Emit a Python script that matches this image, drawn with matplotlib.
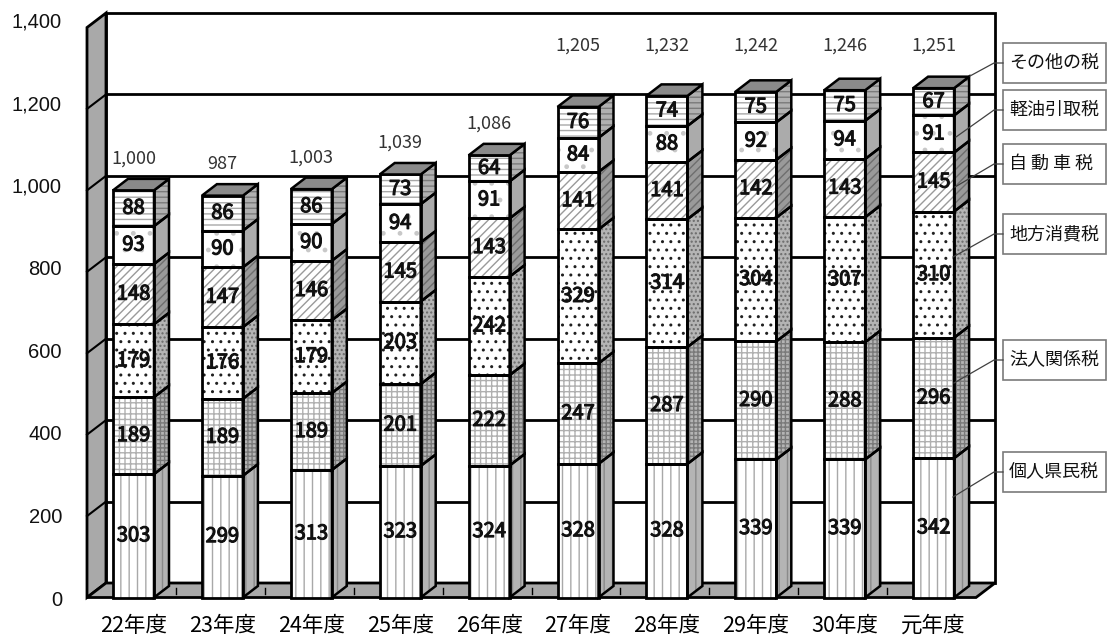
import matplotlib
matplotlib.use('Agg')
import matplotlib.pyplot as plt
import matplotlib.patheffects as pe
from matplotlib.patches import Polygon, Rectangle

plt.rcParams['font.family'] = ['Noto Sans CJK JP', 'DejaVu Sans']
plt.rcParams['hatch.linewidth'] = 1.0

# ---------------- data ----------------
categories = ['22年度', '23年度', '24年度', '25年度', '26年度',
              '27年度', '28年度', '29年度', '30年度', '元年度']
kojin_kenmin = [303, 299, 313, 323, 324, 328, 328, 339, 339, 342]   # 個人県民税
hojin_kankei = [189, 189, 189, 201, 222, 247, 287, 290, 288, 296]   # 法人関係税
chiho_shohi = [179, 176, 179, 203, 242, 329, 314, 304, 307, 310]    # 地方消費税
jidosha = [148, 147, 146, 145, 143, 141, 141, 142, 143, 145]        # 自動車税
keiyu = [93, 90, 90, 94, 91, 84, 88, 92, 94, 91]                    # 軽油引取税
sonota = [88, 86, 86, 73, 64, 76, 74, 75, 75, 67]                   # その他の税
totals = [1000, 987, 1003, 1039, 1086, 1205, 1232, 1242, 1246, 1251]
series = [kojin_kenmin, hojin_kankei, chiho_shohi, jidosha, keiyu, sonota]
legend_labels = ['個人県民税', '法人関係税', '地方消費税', '自 動 車 税', '軽油引取税', 'その他の税']
yticks = [0, 200, 400, 600, 800, 1000, 1200, 1400]

# ---------------- styles ----------------
# (front face, front hatch, front hatch colour, side face, side hatch, side hatch colour)
styles = [
    ('white', '||', '#a8a8a8', '#b4b4b4', '||', '#8a8a8a'),
    ('white', '+++', '#b0b0b0', '#b4b4b4', '++++', '#7a7a7a'),
    ('white', '..', '#202020', '#b4b4b4', '....', '#6a6a6a'),
    ('white', '////', '#9a9a9a', '#9a9a9a', '////', '#6e6e6e'),
    ('white', '.', '#c8c8c8', '#ababab', '', '#ababab'),
    ('white', '---', '#a8a8a8', '#b0b0b0', '---', '#7a7a7a'),
]
WALL = '#a9a9a9'
TOP = '#8a8a8a'

W, H = 1108, 639
L, R, B0, T0 = 87, 976, 597.5, 27.5
fig = plt.figure(figsize=(W / 100, H / 100), dpi=100)
ax = fig.add_axes([L / W, 1 - B0 / H, (R - L) / W, (B0 - T0) / H])
ax.set_xlim(-0.5, 9.5)
ax.set_ylim(0, 1400)
ax.axis('off')

PXU = (R - L) / 10.0          # px per category unit
PXV = (B0 - T0) / 1400.0      # px per value unit


def dx(px):
    return px / PXU


def dv(px):
    return px / PXV


def p2d(xpx, ypx):
    return (-0.5 + (xpx - L) / PXU, (B0 - ypx) / PXV)


WDX, WDY = dx(19), dv(14.5)
BDX, BDY = dx(15), dv(11.5)


def poly(pts, **kw):
    p = Polygon(pts, closed=True, clip_on=False, **kw)
    ax.add_patch(p)
    return p


# ---------------- walls ----------------
x0, x1 = -0.5, 9.5
poly([(x0 + WDX, WDY), (x1 + WDX, WDY), (x1 + WDX, 1400 + WDY), (x0 + WDX, 1400 + WDY)],
     facecolor='white', edgecolor='black', linewidth=2, zorder=1)
for v in yticks[1:-1]:
    ax.plot([x0 + WDX, x1 + WDX], [v + WDY, v + WDY], color='black', lw=2,
            clip_on=False, zorder=1.5, solid_capstyle='butt')
poly([(x0, 0), (x0, 1400), (x0 + WDX, 1400 + WDY), (x0 + WDX, WDY)],
     facecolor=WALL, edgecolor='black', linewidth=2, zorder=2)
for v in yticks[1:-1]:
    ax.plot([x0, x0 + WDX], [v, v + WDY], color='black', lw=1.5, clip_on=False, zorder=2.1)
poly([(x0, 0), (x1, 0), (x1 + WDX, WDY), (x0 + WDX, WDY)],
     facecolor=WALL, edgecolor='black', linewidth=2, zorder=2)
for k in range(1, 10):
    ax.plot([k - 0.5, k - 0.5], [dv(4), dv(10)], color='black', lw=1, clip_on=False, zorder=2.1)

# ---------------- bars ----------------
BL, BW = dx(26), dx(41)
thick = [pe.withStroke(linewidth=0.8, foreground='#111111')]
for i in range(len(categories)):
    xl = i - 0.5 + BL
    xr = xl + BW
    base = 0
    for s, vals in enumerate(series):
        v = vals[i]
        y0, y1 = base, base + v
        ff, fh, fhc, sf, sh, shc = styles[s]
        # front face
        poly([(xl, y0), (xr, y0), (xr, y1), (xl, y1)], facecolor=ff, edgecolor=fhc,
             hatch=fh, linewidth=0, zorder=3)
        poly([(xl, y0), (xr, y0), (xr, y1), (xl, y1)], fill=False, edgecolor='black',
             linewidth=2, zorder=3.2)
        # side face
        side = [(xr, y0), (xr + BDX, y0 + BDY), (xr + BDX, y1 + BDY), (xr, y1)]
        poly(side, facecolor=sf, edgecolor=shc, hatch=sh, linewidth=0, zorder=3)
        poly(side, fill=False, edgecolor='black', linewidth=1.8, zorder=3.2)
        ax.text((xl + xr) / 2, (y0 + y1) / 2, f'{v}', ha='center', va='center',
                fontsize=14.5, color='#111111', zorder=5, path_effects=thick)
        base = y1
    # top face
    poly([(xl, base), (xr, base), (xr + BDX, base + BDY), (xl + BDX, base + BDY)],
         facecolor=TOP, edgecolor='black', linewidth=1.8, zorder=3.3)
    # total label
    ty = 1355 if totals[i] > 1200 else totals[i] + 78
    ax.text((xl + xr) / 2, ty, f'{totals[i]:,}', ha='center', va='center',
            fontsize=13, color='#333333', zorder=5)
    # category label
    ax.text((xl + xr) / 2, p2d(0, 626)[1], categories[i], ha='center', va='center',
            fontsize=15.5, color='black', clip_on=False)

# ---------------- y tick labels ----------------
for v in yticks:
    ypx = 600 - v * (578 / 1400)
    ax.text(p2d(62, 0)[0], p2d(0, ypx)[1], f'{v:,}', ha='right', va='center',
            fontsize=14.5, family=['Liberation Sans', 'DejaVu Sans'], color='#111111')

# ---------------- legend boxes with leader lines ----------------
box_cy = [472, 360, 234, 164, 110, 63]
leader_end = [(953, 497), (954, 383), (953, 257), (955, 187), (956, 137), (970, 76)]
for s, lab in enumerate(legend_labels):
    cy = box_cy[s]
    bx0, by0 = p2d(1003, cy + 20)
    bx1, by1 = p2d(1106, cy - 20)
    ax.add_patch(Rectangle((bx0, by0), bx1 - bx0, by1 - by0, facecolor='white',
                           edgecolor='#7a7a7a', linewidth=1.2, clip_on=False, zorder=6))
    tx, tyy = p2d(1009, cy)
    ax.text(tx, tyy, lab, ha='left', va='center', fontsize=13, color='#111111', zorder=7)
    pa = p2d(1003, cy)
    pb = p2d(994, cy)
    pc = p2d(*leader_end[s])
    ax.plot([pa[0], pb[0], pc[0]], [pa[1], pb[1], pc[1]], color='#404040', lw=0.9,
            clip_on=False, zorder=6)

fig.savefig('out.png', dpi=100)
